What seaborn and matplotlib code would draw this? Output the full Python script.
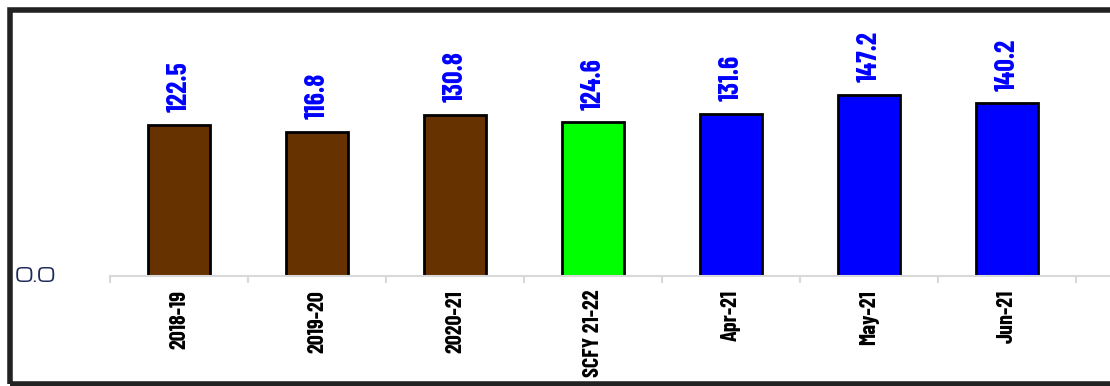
import matplotlib
matplotlib.use("Agg")
import matplotlib.pyplot as plt
import matplotlib.font_manager as fm
from matplotlib.patches import Rectangle
import seaborn as sns
import pandas as pd
import numpy as np

categories = ["2018-19", "2019-20", "2020-21", "SCFY 21-22", "Apr-21", "May-21", "Jun-21"]
values = [122.5, 116.8, 130.8, 124.6, 131.6, 147.2, 140.2]
bar_colors = ["#663300", "#663300", "#663300", "#00ff00", "#0000ff", "#0000ff", "#0000ff"]

sns.set_theme(style="white")

fonts = fm.fontManager.ttflist
def has_bold(name):
    return any(f.name == name and (f.weight in ("bold", 700) or str(f.weight) == "700") for f in fonts)

narrow = "DejaVu Sans"
for cand in ["Archivo Narrow", "Liberation Sans Narrow", "Barlow Condensed", "Asap Condensed"]:
    if has_bold(cand):
        narrow = cand
        break

names = {f.name for f in fonts}
wide = "DejaVu Sans"
for cand in ["Michroma", "Krona One", "Lexend Zetta", "Syncopate"]:
    if cand in names:
        wide = cand
        break

plt.rcParams["font.family"] = [narrow, "DejaVu Sans"]

fig = plt.figure(figsize=(11.10, 3.86), dpi=100)
ax = fig.add_axes([110 / 1110, 110 / 386, 1000 / 1110, 256 / 386])

df = pd.DataFrame({"cat": categories, "val": values})
sns.barplot(data=df, x="cat", y="val", hue="cat", palette=bar_colors, legend=False,
            width=0.45, edgecolor="black", linewidth=2, saturation=1, ax=ax)

for i, v in enumerate(values):
    ax.annotate(f"{v:.1f}", (i, v), xytext=(0, 9), textcoords="offset points",
                rotation=90, ha="center", va="bottom", color="#0000ff",
                fontsize=20, fontweight="bold", family=[narrow, "DejaVu Sans"])

for s in ["top", "right", "left"]:
    ax.spines[s].set_visible(False)
ax.spines["bottom"].set_color("#d9d9d9")
ax.spines["bottom"].set_linewidth(1.5)

ax.set_xticks(range(len(categories)))
ax.set_xticklabels(categories, rotation=90, fontsize=16, fontweight="bold", color="black",
                   va="top", ha="center")
ax.tick_params(axis="x", which="major", length=0, pad=10)
ax.set_xticks(np.arange(-0.5, 8, 1), minor=True)
ax.tick_params(axis="x", which="minor", length=5, color="#d9d9d9", width=1.5, bottom=True)
ax.set_yticks([])
ax.set_xlabel("")
ax.set_ylabel("")
ax.set_xlim(-0.5, -0.5 + 1000 / 138)
ax.set_ylim(0, 256 / 1.233)

fig.text(15 / 1110, 1 - 277 / 386, "0.0", ha="left", va="center",
         fontsize=14 if wide != "DejaVu Sans" else 15,
         color="#1f2a5a", family=wide)

fig.patches.append(Rectangle((10 / 1110, 2 / 386), 1.2, 374 / 386, transform=fig.transFigure,
                             fill=False, edgecolor="#222222", linewidth=4, figure=fig))

fig.savefig("out.png", dpi=100)
